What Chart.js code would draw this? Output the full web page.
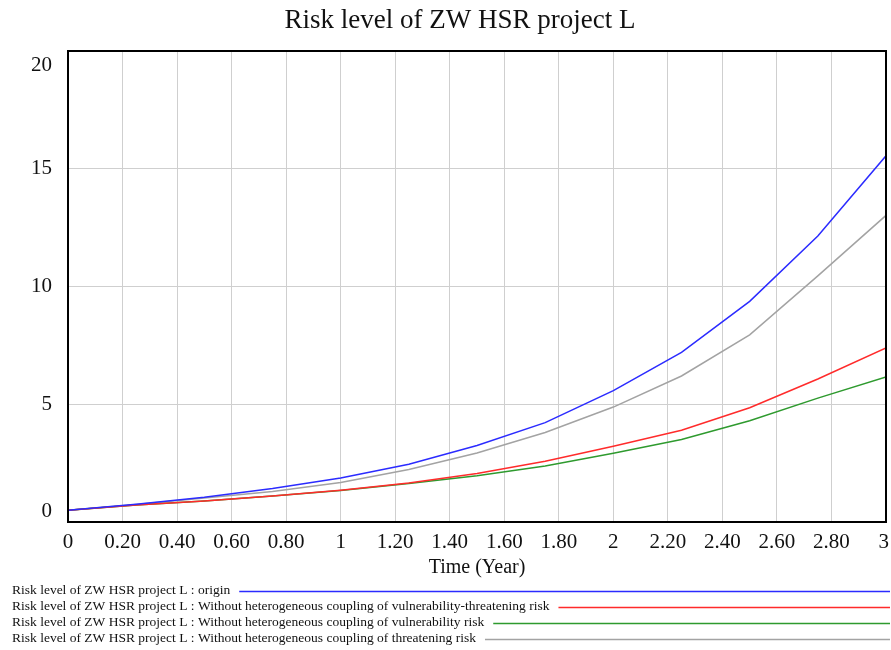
<!DOCTYPE html>
<html>
<head>
<meta charset="utf-8">
<script src="https://cdn.jsdelivr.net/npm/chart.js@4.4.0/dist/chart.umd.min.js"></script>
<style>
  html, body { margin: 0; padding: 0; background: #fff; }
  #wrap { width: 891px; height: 650px; position: relative; }
</style>
</head>
<body>
<div id="wrap"><canvas id="riskChart" width="891" height="650"></canvas></div>
<script>
const chartTitle = 'Risk level of ZW HSR project L';
const xTitle = 'Time (Year)';
const times = [0, 0.25, 0.5, 0.75, 1, 1.25, 1.5, 1.75, 2, 2.25, 2.5, 2.75, 3];
const originRisk = [0.5, 0.75, 1.05, 1.42, 1.87, 2.45, 3.25, 4.22, 5.58, 7.2, 9.37, 12.14, 15.55];
const noVulThrRisk = [0.5, 0.72, 0.89, 1.10, 1.35, 1.66, 2.06, 2.58, 3.22, 3.9, 4.85, 6.07, 7.39];
const noVulRisk = [0.5, 0.72, 0.89, 1.10, 1.34, 1.63, 1.96, 2.38, 2.92, 3.5, 4.3, 5.26, 6.16];
const noThrRisk = [0.5, 0.74, 1.02, 1.30, 1.68, 2.23, 2.93, 3.80, 4.88, 6.2, 7.95, 10.45, 13.02];
const seriesNames = [
    'Risk level of ZW HSR project L : origin',
    'Risk level of ZW HSR project L : Without heterogeneous coupling of vulnerability-threatening risk',
    'Risk level of ZW HSR project L : Without heterogeneous coupling of vulnerability risk',
    'Risk level of ZW HSR project L : Without heterogeneous coupling of threatening risk'
];
const seriesColors = ['#2b2bff', '#ff2b2b', '#2e9a2e', '#a3a3a3'];
const xTicks = [0, 0.2, 0.4, 0.6, 0.8, 1, 1.2, 1.4, 1.6, 1.8, 2, 2.2, 2.4, 2.6, 2.8, 3];
const xTickLabels = ['0', '0.20', '0.40', '0.60', '0.80', '1', '1.20', '1.40', '1.60', '1.80', '2', '2.20', '2.40', '2.60', '2.80', '3'];
const yTicks = [0, 5, 10, 15, 20];
const yTickLabels = ['0', '5', '10', '15', '20'];

const serif = '"Liberation Serif", "Times New Roman", serif';
const allSeries = [originRisk, noVulThrRisk, noVulRisk, noThrRisk];

function toPoints(vals) {
    return times.map((t, i) => ({ x: t, y: vals[i] }));
}

// draws title, frame, tick labels and the line legend under the chart
const vensimLook = {
    id: 'vensimLook',
    afterDraw(chart) {
        const ctx = chart.ctx;
        const area = chart.chartArea;
        const xs = chart.scales.x, ys = chart.scales.y;
        ctx.save();
        ctx.fillStyle = '#111';

        ctx.font = '27px ' + serif;
        ctx.textAlign = 'center';
        ctx.textBaseline = 'middle';
        ctx.fillText(chartTitle, 460, 21);

        ctx.strokeStyle = '#000';
        ctx.lineWidth = 2;
        ctx.strokeRect(area.left, area.top, area.right - area.left, area.bottom - area.top);

        ctx.font = '21px ' + serif;
        ctx.textAlign = 'right';
        yTicks.forEach((v, i) => {
            let y = ys.getPixelForValue(v);
            y = Math.max(area.top + 14, Math.min(area.bottom - 11, y));
            ctx.fillText(yTickLabels[i], 52, y);
        });

        ctx.textAlign = 'center';
        xTicks.forEach((v, i) => {
            let x = xs.getPixelForValue(v);
            const w = ctx.measureText(xTickLabels[i]).width;
            x = Math.min(x, 889 - w / 2);
            ctx.fillText(xTickLabels[i], x, 542);
        });

        ctx.font = '20px ' + serif;
        ctx.fillText(xTitle, (area.left + area.right) / 2, 568);

        ctx.font = '13.5px ' + serif;
        ctx.textAlign = 'left';
        seriesNames.forEach((name, i) => {
            const y = 590 + i * 16;
            ctx.fillStyle = '#111';
            ctx.fillText(name, 12, y);
            const w = ctx.measureText(name).width;
            ctx.strokeStyle = seriesColors[i];
            ctx.lineWidth = 1.6;
            ctx.beginPath();
            ctx.moveTo(12 + w + 9, y + 1.5);
            ctx.lineTo(890, y + 1.5);
            ctx.stroke();
        });
        ctx.restore();
    }
};

new Chart(document.getElementById('riskChart').getContext('2d'), {
    type: 'line',
    data: {
        datasets: allSeries.map((vals, i) => ({
            label: seriesNames[i],
            data: toPoints(vals),
            borderColor: seriesColors[i],
            borderWidth: 1.5,
            pointRadius: 0,
            tension: 0,
            fill: false
        }))
    },
    options: {
        responsive: false,
        animation: false,
        layout: { padding: { left: 68, top: 51, right: 5, bottom: 128 } },
        plugins: { legend: { display: false }, title: { display: false }, tooltip: { enabled: false } },
        scales: {
            x: {
                type: 'linear', min: 0, max: 3,
                afterBuildTicks: s => { s.ticks = xTicks.map(v => ({ value: v })); },
                ticks: { display: false },
                grid: { color: '#cfcfcf', lineWidth: 1, drawTicks: false },
                border: { display: false }
            },
            y: {
                min: 0, max: 20,
                afterBuildTicks: s => { s.ticks = yTicks.map(v => ({ value: v })); },
                ticks: { display: false },
                grid: { color: '#cfcfcf', lineWidth: 1, drawTicks: false },
                border: { display: false }
            }
        }
    },
    plugins: [vensimLook]
});
</script>
</body>
</html>
